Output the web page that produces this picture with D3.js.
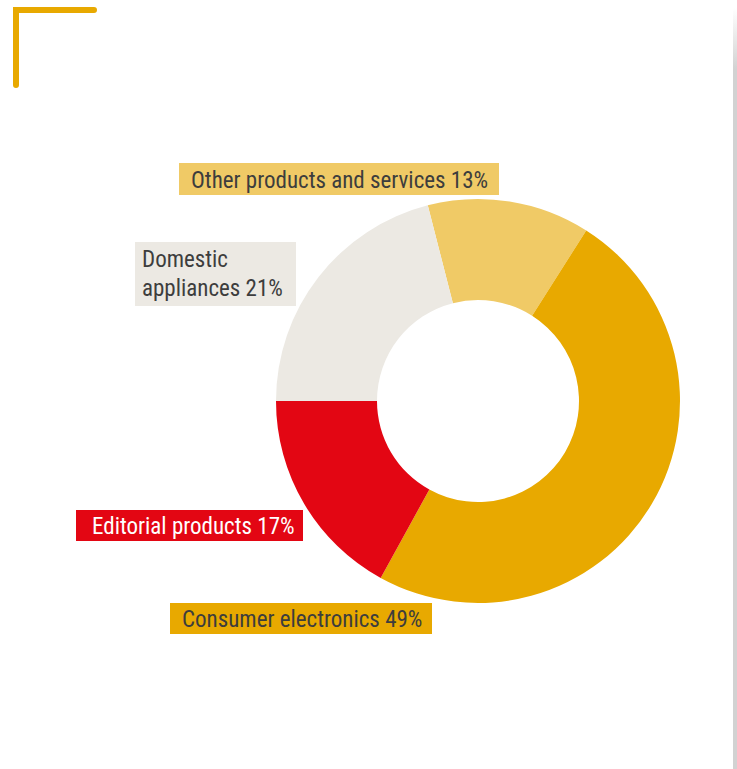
<!DOCTYPE html>
<html>
<head>
<meta charset="utf-8">
<script src="https://cdn.jsdelivr.net/npm/d3@7"></script>
<style>
  body { margin: 0; background: #fff; }
  text { font-family: "Liberation Sans Narrow", "Roboto Condensed", "Roboto", sans-serif; }
</style>
</head>
<body>
<svg id="chart" width="737" height="769"></svg>
<script>
// Data, in drawing order (clockwise from the start angle)
var categories = ["Other products and services", "Consumer electronics", "Editorial products", "Domestic appliances"];
var shares = [13, 49, 17, 21];
var labelLines = [
    ["Other products and services 13%"],
    ["Consumer electronics 49%"],
    ["Editorial products 17%"],
    ["Domestic", "appliances 21%"]
];

// colours per slice
var colors = ["#F0CA66", "#E8A900", "#E30613", "#ECE9E3"];
var textColors = ["#3d3d3d", "#3d3d3d", "#ffffff", "#3d3d3d"];

// label boxes (x, y, w, h) and text position
var boxes = [
    {x: 179, y: 163, w: 320, h: 32, tx: 191, ty: 188},
    {x: 170, y: 603, w: 262, h: 31, tx: 182, ty: 627},
    {x: 76,  y: 510, w: 227, h: 31, tx: 92,  ty: 534},
    {x: 135, y: 242, w: 161, h: 64, tx: 142, ty: 267}
];

var svg = d3.select("#chart");

// right edge grey bar
var defs = svg.append("defs");
var grad = defs.append("linearGradient")
    .attr("id", "edgeFade")
    .attr("x1", 0).attr("y1", 0).attr("x2", 0).attr("y2", 1);
grad.append("stop").attr("offset", "0%").attr("stop-color", "#ffffff");
grad.append("stop").attr("offset", "8%").attr("stop-color", "#d2d2d2");
grad.append("stop").attr("offset", "100%").attr("stop-color", "#d2d2d2");

svg.append("rect")
    .attr("x", 733).attr("y", 8)
    .attr("width", 4).attr("height", 761)
    .attr("fill", "url(#edgeFade)");

// corner bracket
svg.append("path")
    .attr("d", "M16,85 L16,10 L94,10")
    .attr("fill", "none")
    .attr("stroke", "#E8A900")
    .attr("stroke-width", 6)
    .attr("stroke-linecap", "round")
    .attr("stroke-linejoin", "miter");

// donut
var cx = 478, cy = 401;
var outerR = 202, innerR = 101;

var pie = d3.pie()
    .sort(null)
    .startAngle(-14.4 * Math.PI / 180)
    .endAngle((360 - 14.4) * Math.PI / 180);

var arc = d3.arc()
    .innerRadius(innerR)
    .outerRadius(outerR);

var g = svg.append("g")
    .attr("transform", `translate(${cx}, ${cy})`);

g.selectAll(".slice")
    .data(pie(shares))
    .enter()
    .append("path")
    .attr("class", "slice")
    .attr("d", arc)
    .attr("fill", (d, i) => colors[i]);

// labels
var labels = svg.selectAll(".label")
    .data(categories)
    .enter()
    .append("g")
    .attr("class", "label");

labels.append("rect")
    .attr("x", (d, i) => boxes[i].x)
    .attr("y", (d, i) => boxes[i].y)
    .attr("width", (d, i) => boxes[i].w)
    .attr("height", (d, i) => boxes[i].h)
    .attr("fill", (d, i) => colors[i]);

labels.each(function(d, i) {
    var t = d3.select(this).append("text")
        .attr("x", boxes[i].tx)
        .attr("y", boxes[i].ty)
        .attr("fill", textColors[i])
        .style("font-size", "23px");
    labelLines[i].forEach((line, k) => {
        t.append("tspan")
            .attr("x", boxes[i].tx)
            .attr("dy", k === 0 ? 0 : 29)
            .text(line);
    });
});
</script>
</body>
</html>
